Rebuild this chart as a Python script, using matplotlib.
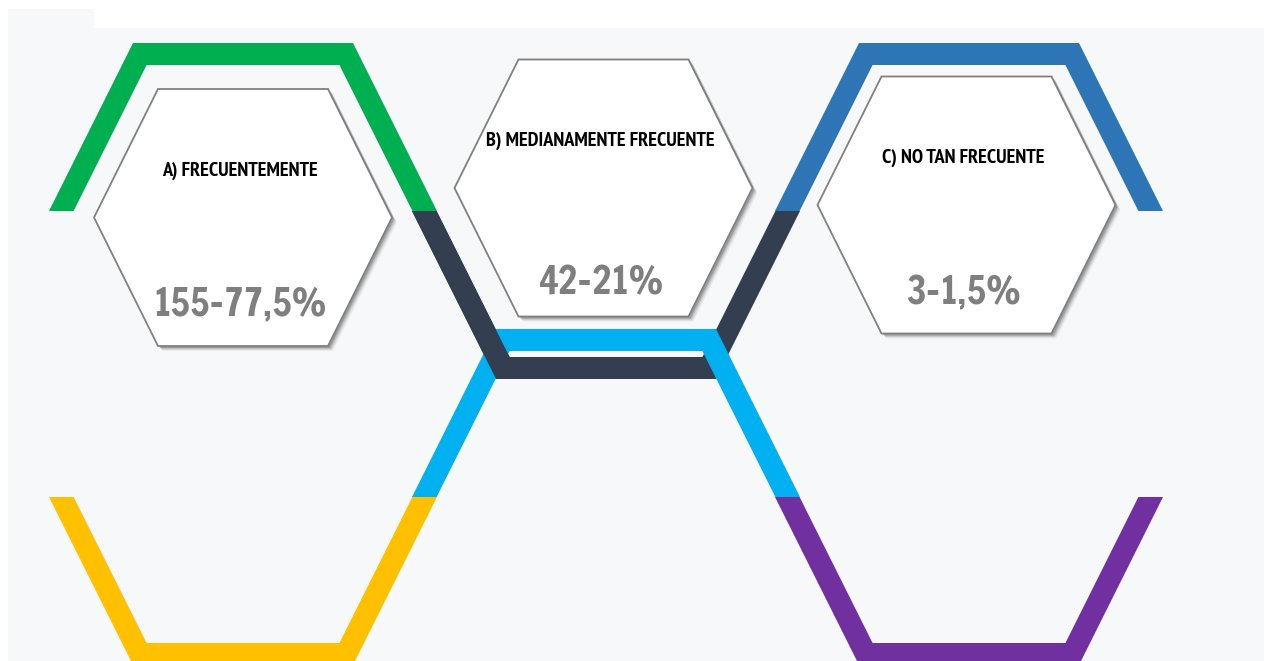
import numpy as np
import matplotlib
matplotlib.use("Agg")
import matplotlib.pyplot as plt
from matplotlib.patches import Polygon, Rectangle

# Survey answers (200 respondents)
categories = ["A) FRECUENTEMENTE", "B) MEDIANAMENTE FRECUENTE", "C) NO TAN FRECUENTE"]
counts = [155, 42, 3]
total = 200

frame_colors = ["#00b050", "#2e75b6", "#00b0f0", "#ffc000", "#7030a0"]
navy = "#333f50"
bg = "#f7f8fa"

W, w_top, H, T = 194, 110, 168, 22   # frame half-width, top half-width, half-height, stroke (px)
SLOPE = (W - w_top) / H

TITLE_FONT = ["PT Sans Narrow", "DejaVu Sans"]
VALUE_FONT = ["Francois One", "DejaVu Sans"]


def half_band(cx, cy, upper=True):
    """Thick half-hexagon outline (upper or lower half)."""
    sgn = -1 if upper else 1
    d = T * np.sqrt(1 + SLOPE ** 2)
    wi = W - d
    ti = wi - (H - T) * SLOPE
    outer = [(cx - W, cy), (cx - w_top, cy + sgn * H), (cx + w_top, cy + sgn * H), (cx + W, cy)]
    inner = [(cx + wi, cy), (cx + ti, cy + sgn * (H - T)), (cx - ti, cy + sgn * (H - T)), (cx - wi, cy)]
    return outer + inner


def hexagon(cx, cy, hw, tw, hh):
    return [(cx - hw, cy), (cx - tw, cy - hh), (cx + tw, cy - hh),
            (cx + hw, cy), (cx + tw, cy + hh), (cx - tw, cy + hh)]


fig = plt.figure(figsize=(12.64, 6.61), dpi=100)
ax = fig.add_axes([0, 0, 1, 1])
ax.set_xlim(0, 1264)
ax.set_ylim(661, 0)
ax.axis("off")

# background panel
ax.add_patch(Rectangle((8, 28), 1256, 640, color=bg, lw=0, zorder=0))
ax.add_patch(Rectangle((8, 9), 86, 20, color=bg, lw=0, zorder=0))

col_x = [243, 606, 969]
row_y = [211, 497]

# outer frames
ax.add_patch(Polygon(half_band(col_x[0], row_y[0], True), closed=True, color=frame_colors[0], lw=0, zorder=2))
ax.add_patch(Polygon(half_band(col_x[2], row_y[0], True), closed=True, color=frame_colors[1], lw=0, zorder=2))
ax.add_patch(Polygon(half_band(col_x[0], row_y[1], False), closed=True, color=frame_colors[3], lw=0, zorder=2))
ax.add_patch(Polygon(half_band(col_x[2], row_y[1], False), closed=True, color=frame_colors[4], lw=0, zorder=2))

# centre pair woven: navy under cyan on the right, over it on the left
ax.add_patch(Polygon(half_band(col_x[1], row_y[0], False), closed=True, color=navy, lw=0, zorder=2))
ax.add_patch(Polygon(half_band(col_x[1], row_y[1], True), closed=True, color=frame_colors[2], lw=0, zorder=3))
over = Polygon(half_band(col_x[1], row_y[0], False), closed=True, color=navy, lw=0, zorder=4)
ax.add_patch(over)
over.set_clip_path(Rectangle((0, 0), col_x[1], 661, transform=ax.transData))

# label hexagons
label_centers = [(243, 217.5), (603.5, 188), (966.5, 205)]
value_dy = [86.5, 95, 88]
LW, LT, LH = 149, 85, 128.5

for i, (cx, cy) in enumerate(label_centers):
    for off, a in [(5, 0.05), (4, 0.08), (3, 0.12), (2, 0.16)]:
        ax.add_patch(Polygon(hexagon(cx + off, cy + off, LW, LT, LH), closed=True,
                             color="#000000", alpha=a, lw=0, zorder=5))
    ax.add_patch(Polygon(hexagon(cx, cy, LW, LT, LH), closed=True, facecolor="white",
                         edgecolor="#808080", lw=1.3, zorder=6))

    pct = counts[i] / total * 100
    pct_txt = f"{pct:g}".replace(".", ",")
    ax.text(cx - 3, cy - 47, categories[i], ha="center", va="center", fontsize=14.6,
            fontweight="bold", family=TITLE_FONT, color="black", zorder=7)
    ax.text(cx - 3, cy + value_dy[i], f"{counts[i]}-{pct_txt}%", ha="center", va="center",
            fontsize=27, family=VALUE_FONT, color="#7f7f7f", zorder=7)

fig.savefig("out.png", dpi=100, facecolor="white")
